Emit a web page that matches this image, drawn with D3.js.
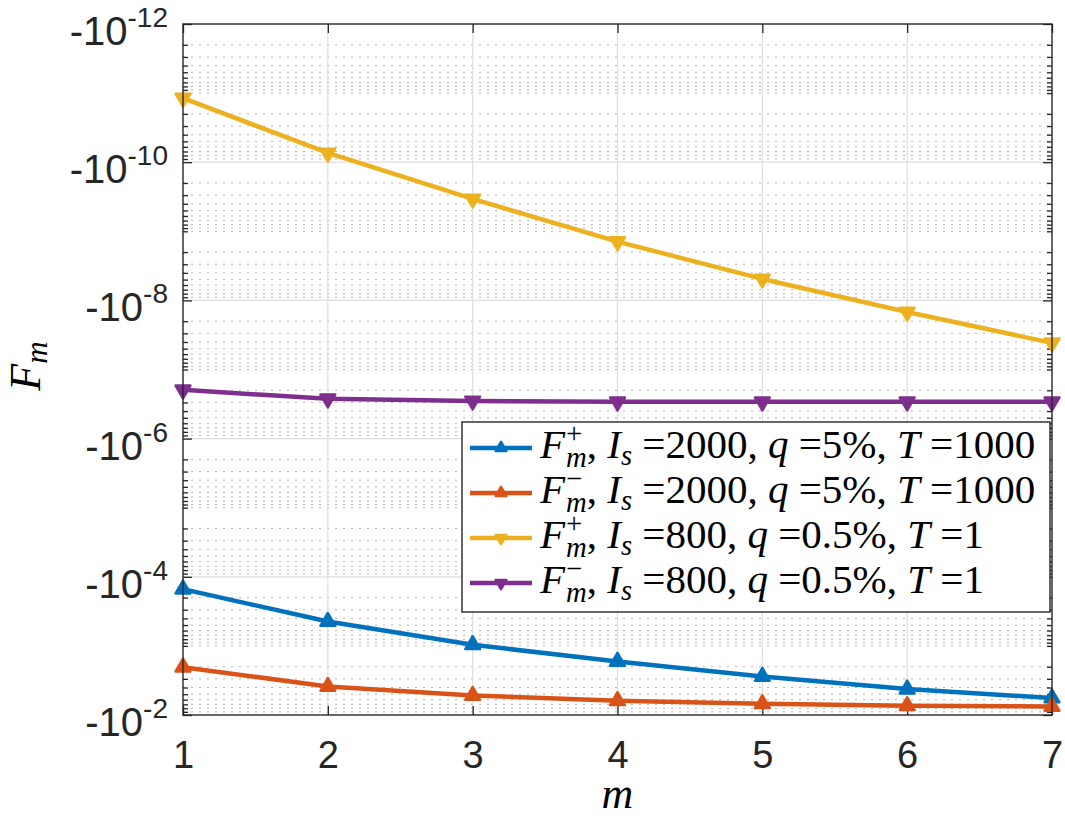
<!DOCTYPE html>
<html>
<head>
<meta charset="utf-8">
<script src="https://cdn.jsdelivr.net/npm/d3@7"></script>
<style>
  body { margin: 0; background: #fff; }
  svg { display: block; }
  .tick text { font-family: "Liberation Sans", Arial, sans-serif; }
</style>
</head>
<body>
<svg id="chart" width="1065" height="820"></svg>
<script>
// data (magnitudes, y axis is drawn as -10^k)
var mValues = [1, 2, 3, 4, 5, 6, 7];
var fPlusA  = [1.51e-4, 4.44e-4, 9.64e-4, 1.68e-3, 2.77e-3, 4.22e-3, 5.69e-3];
var fMinusA = [2.03e-3, 3.87e-3, 5.22e-3, 6.23e-3, 6.89e-3, 7.36e-3, 7.53e-3];
var fPlusB  = [1.18e-11, 7.35e-11, 3.40e-10, 1.41e-9, 4.89e-9, 1.47e-8, 4.12e-8];
var fMinusB = [1.97e-7, 2.66e-7, 2.85e-7, 2.94e-7, 2.94e-7, 2.94e-7, 2.94e-7];
var yExponents = [-12, -10, -8, -6, -4, -2];

var series = [
  {values: fPlusA,  color: '#0072BD', marker: 'up',   sign: '+', Is: '2000', q: '5%',   T: '1000'},
  {values: fMinusA, color: '#D95319', marker: 'up',   sign: '\u2212', Is: '2000', q: '5%',   T: '1000'},
  {values: fPlusB,  color: '#EDB120', marker: 'down', sign: '+', Is: '800',  q: '0.5%', T: '1'},
  {values: fMinusB, color: '#7E2F8E', marker: 'down', sign: '\u2212', Is: '800',  q: '0.5%', T: '1'}
];

var svg = d3.select('#chart');
var plot = {l: 183, r: 1052, t: 24, b: 715};

var xScale = d3.scaleLinear().domain([1, 7]).range([plot.l, plot.r]);
var yScale = d3.scaleLog().domain([1e-12, 1e-2]).range([plot.t, plot.b]);

// major ticks at labelled decades, minor at every other 1..9 x 10^k
var majorY = yExponents.map(function(e) { return Math.pow(10, e); });
var minorY = [];
d3.range(-12, -2).forEach(function(k) {
  d3.range(1, 10).forEach(function(j) {
    if (j === 1 && k % 2 === 0) return;
    minorY.push(j * Math.pow(10, k));
  });
});

// grid
var grid = svg.append('g');
grid.selectAll('.minor')
  .data(minorY)
  .enter().append('line')
  .attr('x1', plot.l).attr('x2', plot.r)
  .attr('y1', function(d) { return yScale(d); })
  .attr('y2', function(d) { return yScale(d); })
  .attr('stroke', '#b4b4b4')
  .attr('stroke-width', 1)
  .attr('stroke-dasharray', '2,6');
grid.selectAll('.majorY')
  .data(majorY.slice(1, -1))
  .enter().append('line')
  .attr('x1', plot.l).attr('x2', plot.r)
  .attr('y1', function(d) { return yScale(d); })
  .attr('y2', function(d) { return yScale(d); })
  .attr('stroke', '#dedede')
  .attr('stroke-width', 1.2);
grid.selectAll('.majorX')
  .data(mValues.slice(1, -1))
  .enter().append('line')
  .attr('y1', plot.t).attr('y2', plot.b)
  .attr('x1', function(d) { return xScale(d); })
  .attr('x2', function(d) { return xScale(d); })
  .attr('stroke', '#dedede')
  .attr('stroke-width', 1.2);

// axes (ticks inward)
function styleAxis(g) {
  g.select('.domain').remove();
  g.selectAll('.tick line').attr('stroke', '#262626').attr('stroke-width', 1.3);
}
svg.append('g')
  .attr('transform', 'translate(0,' + plot.b + ')')
  .call(d3.axisBottom(xScale).tickValues(mValues).tickSize(-9).tickPadding(26).tickFormat(d3.format('d')))
  .call(styleAxis)
  .selectAll('text')
  .attr('font-size', 38)
  .attr('fill', '#262626');
svg.append('g')
  .attr('transform', 'translate(0,' + plot.t + ')')
  .call(d3.axisTop(xScale).tickValues(mValues).tickSize(-9).tickFormat(''))
  .call(styleAxis);

[[plot.l, d3.axisLeft], [plot.r, d3.axisRight]].forEach(function(a) {
  svg.append('g')
    .attr('transform', 'translate(' + a[0] + ',0)')
    .call(a[1](yScale).tickValues(majorY).tickSize(-9).tickFormat(''))
    .call(styleAxis);
  svg.append('g')
    .attr('transform', 'translate(' + a[0] + ',0)')
    .call(a[1](yScale).tickValues(minorY).tickSize(-5).tickFormat(''))
    .call(styleAxis);
});

// y tick labels: -10^k
var yLabels = svg.append('g')
  .attr('font-family', '"Liberation Sans", Arial, sans-serif')
  .attr('fill', '#262626');
yExponents.forEach(function(e) {
  var t = yLabels.append('text')
    .attr('x', 168)
    .attr('y', yScale(Math.pow(10, e)) + 21)
    .attr('text-anchor', 'end');
  t.append('tspan').attr('font-size', 40).text('-10');
  t.append('tspan').attr('font-size', 28).attr('dy', -18).text(String(e));
});

// lines and markers
var line = d3.line()
  .x(function(d, i) { return xScale(mValues[i]); })
  .y(function(d) { return yScale(d); });

var triangle = d3.symbol().type(d3.symbolTriangle);

series.forEach(function(s) {
  svg.append('path')
    .datum(s.values)
    .attr('d', line)
    .attr('fill', 'none')
    .attr('stroke', s.color)
    .attr('stroke-width', 4.5)
    .attr('stroke-linejoin', 'round');
  svg.selectAll(null)
    .data(s.values)
    .enter().append('path')
    .attr('d', triangle.size(95)())
    .attr('transform', function(d, i) {
      return 'translate(' + xScale(mValues[i]) + ',' + yScale(d) + ')' + (s.marker === 'down' ? ' rotate(180)' : '');
    })
    .attr('fill', s.color)
    .attr('stroke', s.color)
    .attr('stroke-width', 2.5)
    .attr('stroke-linejoin', 'round');
});

// box
svg.append('rect')
  .attr('x', plot.l).attr('y', plot.t)
  .attr('width', plot.r - plot.l).attr('height', plot.b - plot.t)
  .attr('fill', 'none')
  .attr('stroke', '#262626')
  .attr('stroke-width', 1.4);

// axis labels
var serif = '"Liberation Serif", "Times New Roman", serif';
svg.append('text')
  .attr('x', (plot.l + plot.r) / 2)
  .attr('y', 808)
  .attr('text-anchor', 'middle')
  .attr('font-family', serif)
  .attr('font-style', 'italic')
  .attr('font-size', 44)
  .text('m');

var yl = svg.append('text')
  .attr('transform', 'translate(40,366) rotate(-90)')
  .attr('text-anchor', 'middle')
  .attr('font-family', serif)
  .attr('font-style', 'italic')
  .attr('font-size', 44);
yl.append('tspan').text('F');
yl.append('tspan').attr('font-size', 31).attr('dy', 7).text('m');

// legend
var legend = svg.append('g');
legend.append('rect')
  .attr('x', 462).attr('y', 422)
  .attr('width', 588).attr('height', 190)
  .attr('fill', '#fff')
  .attr('stroke', '#262626')
  .attr('stroke-width', 1.4);

var fs = 41;
var small = fs * 0.7;

// measure a piece of text with a throwaway element
function measure(txt, size, italic) {
  var t = svg.append('text')
    .attr('font-family', serif)
    .attr('font-size', size)
    .attr('font-style', italic ? 'italic' : 'normal')
    .style('white-space', 'pre')
    .text(txt);
  var w = t.node().getComputedTextLength();
  t.remove();
  return w;
}

series.forEach(function(s, i) {
  var cy = 448 + i * 45;
  var row = legend.append('g');
  row.append('line')
    .attr('x1', 470).attr('x2', 532)
    .attr('y1', cy).attr('y2', cy)
    .attr('stroke', s.color)
    .attr('stroke-width', 4.5);
  row.append('path')
    .attr('d', triangle.size(50)())
    .attr('transform', 'translate(501,' + cy + ')' + (s.marker === 'down' ? ' rotate(180)' : ''))
    .attr('fill', s.color)
    .attr('stroke', s.color)
    .attr('stroke-width', 2.5)
    .attr('stroke-linejoin', 'round');

  var base = cy + 10;
  // pieces: [text, size, italic, baseline shift, advance?]
  var pieces = [
    ['F', fs, true, 0, true],
    [s.sign, small, false, -15, false],
    ['m', small, true, 9, true],
    [', ', fs, false, 0, true],
    ['I', fs, true, 0, true],
    ['s', small, true, 7, true],
    [' =' + s.Is + ', ', fs, false, 0, true],
    ['q', fs, true, 0, true],
    [' =' + s.q + ', ', fs, false, 0, true],
    ['T', fs, true, 0, true],
    [' =' + s.T, fs, false, 0, true]
  ];
  var t = row.append('text')
    .attr('font-family', serif)
    .attr('fill', '#000')
    .style('white-space', 'pre');
  var x = 540;
  var pending = 0;
  pieces.forEach(function(p) {
    var w = measure(p[0], p[1], p[2]);
    t.append('tspan')
      .attr('x', x)
      .attr('y', base + p[3])
      .attr('font-size', p[1])
      .attr('font-style', p[2] ? 'italic' : 'normal')
      .text(p[0]);
    if (p[4]) {
      x += Math.max(w, pending) + (p[0] === 'F' ? 1 : 0);
      pending = 0;
    } else {
      pending = w;
    }
  });
});
</script>
</body>
</html>
